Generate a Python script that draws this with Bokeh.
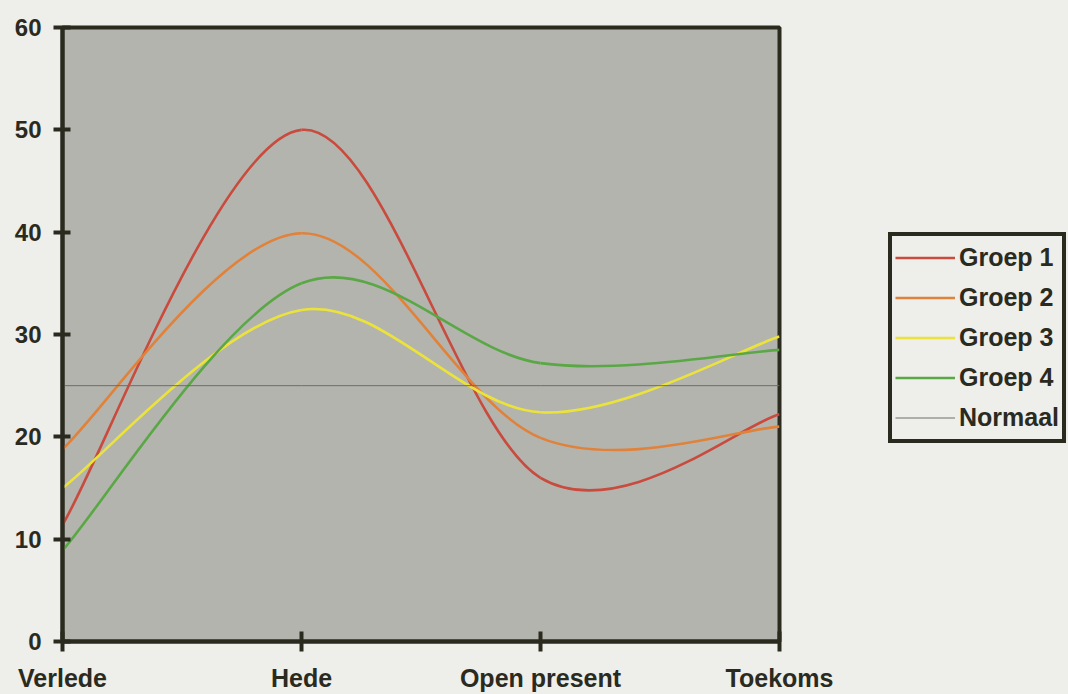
import numpy as np
from bokeh.plotting import figure
from bokeh.layouts import row
from bokeh.models import Range1d, FixedTicker, Legend, LegendItem
from bokeh.embed import file_html
from bokeh.resources import INLINE

categories = ["Verlede", "Hede", "Open present", "Toekoms"]
groep1 = [11.4, 50.0, 16.0, 22.2]
groep2 = [18.8, 39.9, 19.9, 21.0]
groep3 = [15.0, 32.4, 22.4, 29.8]
groep4 = [8.9, 35.0, 27.2, 28.5]
normaal = [25, 25, 25, 25]
y_ticks = [0, 10, 20, 30, 40, 50, 60]

series = [
    ("Groep 1", groep1, "#c94b3d"),
    ("Groep 2", groep2, "#e0823a"),
    ("Groep 3", groep3, "#ece33a"),
    ("Groep 4", groep4, "#5aa845"),
]
NORM_COLOR = "#6e6e6a"

FONT = "Liberation Sans"
DARK = "#2a2a1e"
PAGE = "#eeeeea"
PLOT = "#b4b4af"

W_MAIN = 850
p = figure(width=W_MAIN, height=694, output_backend="svg", toolbar_location=None,
           x_range=Range1d(0, 3), y_range=Range1d(0, 60),
           min_border_left=62, min_border_right=W_MAIN - 779, min_border_top=27, min_border_bottom=52)
p.background_fill_color = PLOT
p.border_fill_color = PAGE
p.outline_line_color = DARK
p.outline_line_width = 4
p.grid.visible = False


def smooth_ctrl(xs, ys):
    xs = np.asarray(xs, float)
    ys = np.asarray(ys, float)
    n = len(xs)
    xp = np.concatenate([[xs[0]], xs, [xs[-1]]])
    yp = np.concatenate([[ys[0]], ys, [ys[-1]]])
    x0, y0 = xs[:-1], ys[:-1]
    x1, y1 = xs[1:], ys[1:]
    cx0 = x0 + (xp[2:n + 1] - xp[0:n - 1]) / 6.0
    cy0 = y0 + (yp[2:n + 1] - yp[0:n - 1]) / 6.0
    cx1 = x1 - (xp[3:n + 2] - xp[1:n]) / 6.0
    cy1 = y1 - (yp[3:n + 2] - yp[1:n]) / 6.0
    return dict(x0=x0, y0=y0, x1=x1, y1=y1, cx0=cx0, cy0=cy0, cx1=cx1, cy1=cy1)


xs = list(range(len(categories)))
for name, vals, col in series:
    c = smooth_ctrl(xs, vals)
    p.bezier(x0=c["x0"], y0=c["y0"], x1=c["x1"], y1=c["y1"],
             cx0=c["cx0"], cy0=c["cy0"], cx1=c["cx1"], cy1=c["cy1"],
             line_color=col, line_width=2.6)
p.line(xs, normaal, line_color=NORM_COLOR, line_width=1)

# axes
for ax in (p.xaxis[0], p.yaxis[0]):
    ax.axis_line_color = DARK
    ax.axis_line_width = 4
    ax.major_tick_line_color = DARK
    ax.major_tick_line_width = 4
    ax.minor_tick_line_color = None
    ax.major_label_text_font = FONT
    ax.major_label_text_font_style = "bold"
    ax.major_label_text_color = DARK

p.xaxis.ticker = FixedTicker(ticks=xs)
p.xaxis.major_label_overrides = {i: c for i, c in enumerate(categories)}
p.xaxis.major_tick_out = 10
p.xaxis.major_tick_in = 10
p.xaxis.major_label_standoff = 12
p.xaxis.major_label_text_font_size = "25px"

p.yaxis.ticker = FixedTicker(ticks=y_ticks)
p.yaxis.major_tick_out = 9
p.yaxis.major_tick_in = 8
p.yaxis.major_label_standoff = 12
p.yaxis.major_label_text_font_size = "24px"

# legend panel: a second figure to the right; its series lie outside its view
W_LEG = 1068 - W_MAIN
p2 = figure(width=W_LEG, height=694, output_backend="svg", toolbar_location=None,
            x_axis_location=None, y_axis_location=None,
            x_range=Range1d(100, 101), y_range=Range1d(100, 101),
            min_border_left=0, min_border_right=0, min_border_top=0, min_border_bottom=0)
p2.grid.visible = False
p2.outline_line_color = None
p2.background_fill_color = PAGE
p2.border_fill_color = PAGE

items = []
for name, vals, col in series:
    r = p2.line(xs, vals, line_color=col, line_width=2.6)
    items.append(LegendItem(label=name, renderers=[r]))
rn = p2.line(xs, normaal, line_color=NORM_COLOR, line_width=1)
items.append(LegendItem(label="Normaal", renderers=[rn]))

legend = Legend(items=items, location=(888 - W_MAIN, 198))
legend.label_text_font = FONT
legend.label_text_font_style = "bold"
legend.label_text_font_size = "25px"
legend.label_text_color = DARK
legend.glyph_width = 60
legend.glyph_height = 37
legend.label_height = 37
legend.label_standoff = 4
legend.spacing = 3
legend.padding = 3
legend.margin = 0
legend.border_line_color = DARK
legend.border_line_width = 4
legend.border_line_alpha = 1
legend.background_fill_color = PAGE
legend.background_fill_alpha = 1
p2.add_layout(legend, "center")

layout = row(p, p2, styles={"background-color": PAGE})
open("out.html", "w").write(file_html(layout, INLINE))
